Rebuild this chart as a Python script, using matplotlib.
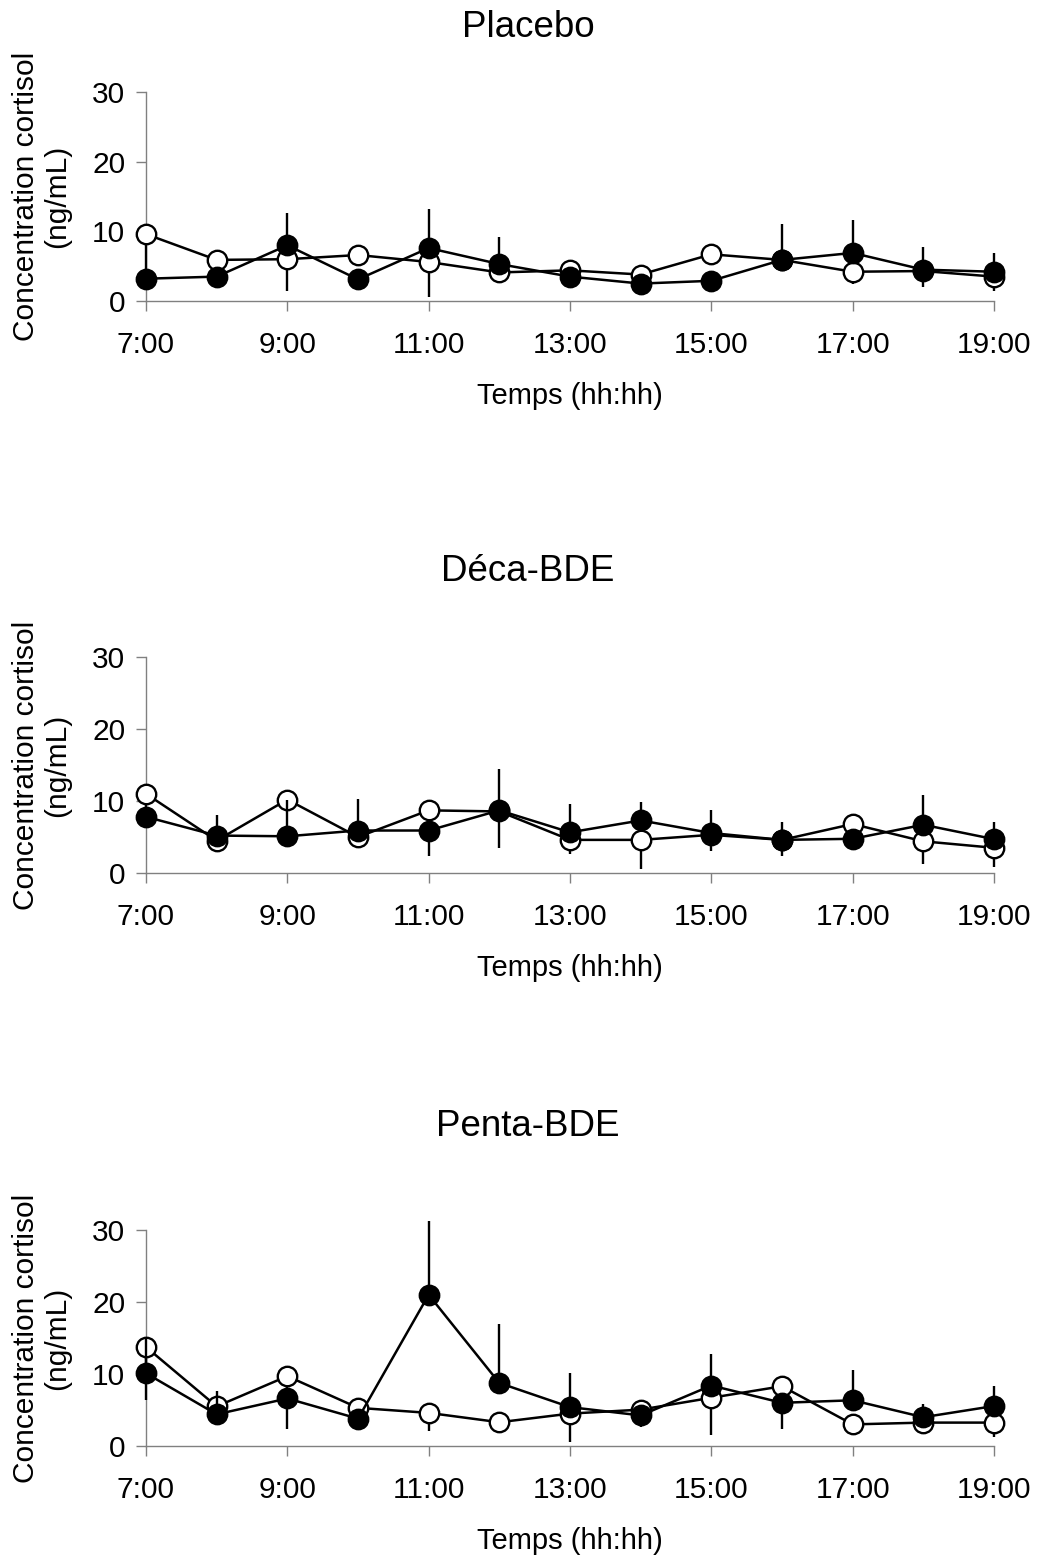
import numpy as np
import matplotlib
matplotlib.use("Agg")
import matplotlib.pyplot as plt

plt.rcParams["font.family"] = ["Liberation Sans", "DejaVu Sans"]

# time of sampling (hours) and tick labels
hours = [7, 8, 9, 10, 11, 12, 13, 14, 15, 16, 17, 18, 19]
tick_hours = [7, 9, 11, 13, 15, 17, 19]
tick_labels = ["7:00", "9:00", "11:00", "13:00", "15:00", "17:00", "19:00"]

titles = ["Placebo", "Déca-BDE", "Penta-BDE"]

# open circles (value, lower error)
placebo_open = [9.6, 5.9, 6.0, 6.6, 5.6, 4.1, 4.4, 3.8, 6.7, 5.9, 4.2, 4.3, 3.5]
placebo_open_err = [6.4, 0.5, 4.5, 0.5, 5.0, 0.5, 0.5, 0.5, 0.5, 0.5, 1.7, 2.3, 2.1]
deca_open = [11.0, 4.5, 10.2, 5.0, 8.7, 8.55, 4.6, 4.6, 5.3, 4.6, 6.8, 4.4, 3.5]
deca_open_err = [3.2, 0.5, 0.5, 0.5, 6.4, 5.05, 2.0, 4.0, 2.2, 2.2, 0.5, 3.1, 2.6]
penta_open = [13.75, 5.5, 9.7, 5.3, 4.6, 3.3, 4.5, 5.05, 6.7, 8.3, 3.0, 3.25, 3.25]
penta_open_err = [7.4, 0.5, 7.4, 0.5, 2.5, 0.5, 3.95, 2.45, 5.2, 6.0, 0.5, 1.55, 2.05]

# filled circles (value, upper error)
placebo_filled = [3.2, 3.5, 8.0, 3.1, 7.6, 5.3, 3.5, 2.5, 2.9, 5.9, 6.9, 4.5, 4.2]
placebo_filled_err = [0.5, 0.5, 4.7, 0.5, 5.6, 3.9, 0.5, 0.5, 0.5, 5.2, 4.7, 3.3, 2.65]
deca_filled = [7.8, 5.2, 5.1, 5.9, 5.9, 8.7, 5.65, 7.3, 5.55, 4.6, 4.75, 6.7, 4.7]
deca_filled_err = [1.0, 2.8, 5.1, 4.4, 0.5, 5.7, 3.95, 2.5, 3.25, 2.5, 0.5, 4.1, 2.4]
penta_filled = [10.1, 4.4, 6.6, 3.8, 21.0, 8.75, 5.4, 4.25, 8.4, 6.0, 6.35, 4.0, 5.55]
penta_filled_err = [5.0, 3.3, 0.5, 0.5, 10.3, 8.25, 4.8, 1.45, 4.4, 0.5, 4.25, 1.9, 2.75]

open_sets = [(placebo_open, placebo_open_err), (deca_open, deca_open_err), (penta_open, penta_open_err)]
filled_sets = [(placebo_filled, placebo_filled_err), (deca_filled, deca_filled_err),
               (penta_filled, penta_filled_err)]

W, H = 1037, 1555
fig = plt.figure(figsize=(W / 100, H / 100), dpi=100)

# (top, bottom) of each plot area in pixels
panel_px = [(92, 301), (657, 873), (1230, 1446)]
title_base = [37, 581, 1136]
left_px, right_px = 146, 994
axis_grey = "#808080"

for i in range(3):
    top, bot = panel_px[i]
    ax = fig.add_axes([left_px / W, 1 - bot / H, (right_px - left_px) / W, (bot - top) / H])

    zeros = np.zeros(len(hours))
    o_vals, o_err = open_sets[i]
    f_vals, f_err = filled_sets[i]

    c1 = ax.errorbar(hours, o_vals, yerr=[o_err, zeros], fmt="-o", color="black",
                     mfc="white", mec="black", ms=14, mew=1.7, lw=1.8,
                     elinewidth=1.7, capsize=0, zorder=3)
    c2 = ax.errorbar(hours, f_vals, yerr=[zeros, f_err], fmt="-o", color="black",
                     mfc="black", mec="black", ms=14, mew=1.7, lw=1.8,
                     elinewidth=1.7, capsize=0, zorder=4)
    for c in (c1, c2):
        for art in c.get_children():
            art.set_clip_on(False)

    ax.set_xlim(7, 19)
    ax.set_ylim(0, 30)
    ax.set_yticks([0, 10, 20, 30])
    ax.set_xticks(tick_hours)
    ax.set_xticklabels(tick_labels)
    for s in ["top", "right"]:
        ax.spines[s].set_visible(False)
    for s in ["left", "bottom"]:
        ax.spines[s].set_color(axis_grey)
        ax.spines[s].set_linewidth(1.0)
    ax.tick_params(axis="both", colors=axis_grey, labelcolor="black", labelsize=21.5,
                   length=7, width=1.0, direction="out")
    ax.tick_params(axis="x", pad=14.5)
    ax.tick_params(axis="y", pad=8)

    ax.set_ylabel("Concentration cortisol\n(ng/mL)", fontsize=21.5, labelpad=15, linespacing=1.15)
    ax.set_xlabel("Temps (hh:hh)", fontsize=21, labelpad=17)

    fig.text(528 / W, 1 - title_base[i] / H, titles[i], fontsize=26.5,
             ha="center", va="baseline")

fig.savefig("out.png", dpi=100)
